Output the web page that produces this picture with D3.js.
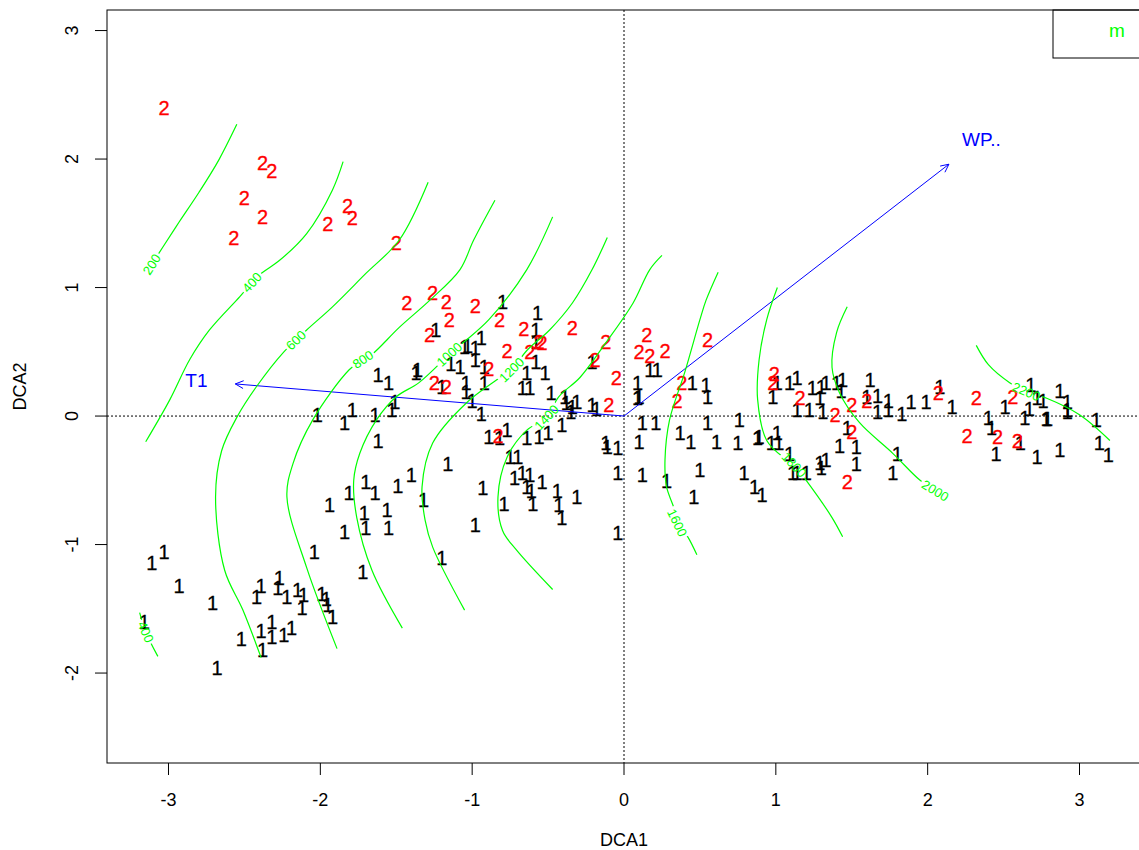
<!DOCTYPE html>
<html>
<head>
<meta charset="utf-8">
<script src="https://cdn.jsdelivr.net/npm/d3@7"></script>
<style>
  body { margin: 0; background: #fff; }
  svg { display: block; font-family: "Liberation Sans", Arial, sans-serif; }
</style>
</head>
<body>
<div id="chart"></div>
<script>
// axis ticks
var xTicks = [-3, -2, -1, 0, 1, 2, 3];
var yTicks = [-2, -1, 0, 1, 2, 3];

// site scores, group 1 (DCA1, DCA2)
var sites1 = [
  [-2.02,0.01],[-1.84,-0.05],[-1.79,0.05],[-1.64,0.01],[-1.53,0.05],[-1.51,0.11],[-1.62,0.32],[-1.55,0.26],[-1.37,0.34],[-1.62,-0.19],
  [-1.70,-0.51],[-1.64,-0.60],[-1.81,-0.60],[-1.94,-0.69],[-1.71,-0.75],[-1.56,-0.73],[-1.49,-0.54],[-1.40,-0.46],[-1.84,-0.90],[-1.70,-0.87],
  [-1.55,-0.87],[-2.04,-1.06],[-3.03,-1.06],[-3.11,-1.14],
  [-2.93,-1.32],[-2.71,-1.45],[-3.16,-1.60],[-2.68,-1.96],[-2.52,-1.73],[-2.42,-1.41],[-2.39,-1.32],[-2.27,-1.26],[-2.28,-1.34],[-2.22,-1.41],
  [-2.15,-1.35],[-2.11,-1.39],[-2.12,-1.49],[-1.99,-1.38],[-1.96,-1.42],[-1.95,-1.47],[-1.92,-1.56],[-2.39,-1.67],[-2.32,-1.60],[-2.32,-1.72],
  [-2.24,-1.70],[-2.19,-1.65],[-2.38,-1.82],[-1.72,-1.21],
  [-0.80,0.89],[-0.57,0.80],[-0.58,0.67],[-0.58,0.58],[-1.24,0.67],[-1.05,0.54],[-1.03,0.55],[-0.98,0.53],[-0.94,0.61],[-1.14,0.41],
  [-1.08,0.38],[-0.98,0.44],[-0.92,0.38],[-0.92,0.26],[-1.36,0.36],[-1.04,0.26],[-1.04,0.19],[-1.20,0.23],[-1.00,0.12],[-0.94,0.02],
  [-0.64,0.34],[-0.52,0.34],[-0.58,0.42],[-0.67,0.22],[-0.62,0.22],[-0.48,0.18],[-0.39,0.15],[-0.38,0.10],[-0.34,0.07],[-0.31,0.11],
  [-0.35,0.03],[-0.21,0.09],[-0.18,0.06],[-0.21,0.42],[-0.89,-0.16],[-0.82,-0.17],[-0.77,-0.11],[-0.64,-0.17],[-0.56,-0.16],[-0.50,-0.13],
  [-0.41,-0.07],[-0.75,-0.32],[-0.70,-0.32],[-1.16,-0.37],[-0.72,-0.48],[-0.67,-0.44],[-0.62,-0.46],[-0.64,-0.55],[-0.61,-0.58],[-0.54,-0.51],
  [-0.44,-0.58],[-0.31,-0.63],[-0.93,-0.56],[-1.32,-0.65],[-0.79,-0.68],[-0.60,-0.68],[-0.43,-0.69],[-0.41,-0.79],[-0.98,-0.85],[-0.12,-0.21],
  [-0.11,-0.24],[-0.04,-0.25],[-0.04,-0.44],[-0.04,-0.91],[-1.20,-1.10],
  [0.17,0.36],[0.22,0.36],[0.09,0.26],[0.10,0.15],[0.09,0.14],[0.12,-0.05],[0.21,-0.05],[0.10,-0.20],[0.12,-0.46],[0.28,-0.50],
  [0.37,-0.13],[0.44,-0.20],[0.45,0.26],[0.54,0.24],[0.55,0.15],[0.55,-0.05],[0.50,-0.42],[0.46,-0.63],[0.61,-0.20],[0.75,-0.21],
  [0.76,-0.03],[0.79,-0.44],[0.86,-0.55],[0.91,-0.61],[0.88,-0.17],[0.89,-0.16],[0.97,-0.21],[1.02,-0.21],[1.01,-0.13],[1.09,-0.29],
  [1.11,-0.44],[1.14,-0.44],[1.20,-0.44],[1.29,-0.36],[1.30,-0.40],[1.33,-0.34],[1.42,-0.23],[1.53,-0.24],[1.53,-0.37],[1.80,-0.29],
  [1.77,-0.44],[0.98,0.15],[1.01,0.26],[1.09,0.26],[1.14,0.30],[1.14,0.05],[1.22,0.05],[1.24,0.22],[1.29,0.14],[1.30,0.23],
  [1.31,0.03],[1.33,0.26],[1.40,0.26],[1.44,0.28],[1.43,0.20],[1.62,0.28],[1.60,0.15],[1.67,0.16],[1.67,0.03],[1.74,0.12],
  [1.74,0.05],[1.83,0.02],[1.89,0.11],[1.99,0.11],[1.47,-0.09],
  [2.08,0.23],[2.16,0.07],[2.40,-0.01],[2.42,-0.09],[2.45,-0.29],[2.51,0.07],[2.64,-0.01],[2.67,0.06],[2.68,0.24],[2.72,0.14],
  [2.76,0.12],[2.78,-0.02],[2.79,-0.02],[2.72,-0.32],[2.61,-0.21],[2.87,0.20],[2.92,0.11],[2.92,0.05],[2.92,0.03],[2.87,-0.26],
  [3.11,-0.03],[3.13,-0.21],[3.19,-0.30]
];

// site scores, group 2
var sites2 = [
  [-3.03,2.40],[-2.38,1.97],[-2.32,1.91],[-2.50,1.70],[-2.38,1.55],[-2.57,1.39],[-1.82,1.64],[-1.79,1.54],[-1.95,1.50],[-1.50,1.35],
  [-1.43,0.88],[-1.26,0.96],[-1.17,0.89],[-0.98,0.86],[-1.15,0.75],[-1.28,0.63],[-0.82,0.75],[-0.66,0.68],[-0.56,0.58],[-0.54,0.57],
  [-0.77,0.51],[-0.62,0.50],[-0.34,0.69],[-0.12,0.58],[-0.19,0.44],[-0.89,0.37],[-1.25,0.26],[-1.17,0.23],[-0.05,0.30],[-0.10,0.09],
  [-0.83,-0.15],[0.15,0.63],[0.10,0.50],[0.17,0.47],[0.27,0.51],[0.55,0.59],[0.38,0.26],[0.35,0.12],[0.99,0.33],[0.98,0.26],
  [1.16,0.14],[1.39,0.01],[1.50,0.09],[1.60,0.12],[1.50,-0.12],[1.47,-0.51],[2.07,0.18],[2.32,0.14],[2.56,0.15],[2.26,-0.15],
  [2.46,-0.16],[2.59,-0.19]
];

// fitted vectors
var vectors = [
  { name: 'T1', x: -2.56, y: 0.25 },
  { name: 'WP..', x: 2.14, y: 1.96 }
];

// surface contours of m (lab = index of the labelled vertex)
var contours = [
  { level: 200, lab: 5, pts: [[-2.55,2.27],[-2.67,1.99],[-2.80,1.74],[-2.93,1.51],[-3.04,1.31],[-3.11,1.18]] },
  { level: 400, lab: 5, pts: [[-1.85,1.98],[-1.92,1.76],[-2.09,1.42],[-2.27,1.21],[-2.39,1.11],[-2.45,1.04],[-2.53,0.93],[-2.73,0.67],[-2.86,0.44],[-2.99,0.13],[-3.15,-0.20]] },
  { level: 400, lab: 1, pts: [[-3.19,-1.53],[-3.15,-1.68],[-3.07,-1.87]] },
  { level: 600, lab: 5, pts: [[-1.29,1.82],[-1.48,1.37],[-1.70,1.11],[-1.92,0.85],[-2.09,0.67],[-2.16,0.59],[-2.24,0.50],[-2.42,0.23],[-2.55,-0.01],[-2.65,-0.27],[-2.69,-0.63],[-2.63,-1.20],[-2.51,-1.51],[-2.39,-1.88]] },
  { level: 800, lab: 6, pts: [[-0.85,1.68],[-0.99,1.37],[-1.08,1.14],[-1.28,0.90],[-1.48,0.69],[-1.66,0.48],[-1.72,0.44],[-1.81,0.36],[-2.05,-0.03],[-2.18,-0.37],[-2.22,-0.63],[-2.09,-1.18],[-1.89,-1.81]] },
  { level: 1000, lab: 4, pts: [[-0.47,1.55],[-0.64,1.14],[-0.89,0.75],[-1.06,0.57],[-1.15,0.48],[-1.35,0.26],[-1.50,0.15],[-1.63,-0.03],[-1.74,-0.29],[-1.78,-0.50],[-1.76,-0.79],[-1.66,-1.20],[-1.46,-1.65]] },
  { level: 1200, lab: 5, pts: [[-0.11,1.39],[-0.21,1.14],[-0.34,0.88],[-0.49,0.67],[-0.64,0.51],[-0.74,0.36],[-0.84,0.28],[-1.04,0.10],[-1.26,-0.21],[-1.33,-0.55],[-1.31,-0.81],[-1.26,-1.02],[-1.05,-1.51]] },
  { level: 1400, lab: 6, pts: [[0.25,1.25],[0.17,1.14],[0.06,0.88],[-0.12,0.57],[-0.29,0.30],[-0.43,0.15],[-0.51,-0.01],[-0.64,-0.11],[-0.77,-0.32],[-0.83,-0.63],[-0.80,-0.89],[-0.71,-1.04],[-0.47,-1.35]] },
  { level: 1600, lab: 8, pts: [[0.62,1.12],[0.54,0.90],[0.50,0.75],[0.40,0.34],[0.30,-0.03],[0.27,-0.34],[0.28,-0.55],[0.33,-0.72],[0.35,-0.83],[0.42,-0.94],[0.48,-1.08]] },
  { level: 1800, lab: 6, pts: [[1.01,1.00],[0.94,0.75],[0.89,0.44],[0.88,0.13],[0.94,-0.19],[1.07,-0.34],[1.12,-0.38],[1.20,-0.50],[1.37,-0.79],[1.44,-0.94]] },
  { level: 2000, lab: 7, pts: [[1.47,0.85],[1.40,0.65],[1.37,0.38],[1.42,0.18],[1.55,-0.05],[1.77,-0.29],[1.95,-0.50],[2.05,-0.58],[2.13,-0.63]] },
  { level: 2200, lab: 3, pts: [[2.32,0.55],[2.40,0.40],[2.54,0.26],[2.65,0.19],[2.78,0.14],[3.00,0.01],[3.20,-0.19]] }
];

var legendLabels = ['m'];

(function(window, d3) {
  'use strict';

  var width = 1139, height = 850;
  var plot = { left: 107, top: 10, right: 1141, bottom: 763 };

  var x = d3.scaleLinear().domain([-3.405, 3.405]).range([plot.left, plot.right]);
  var y = d3.scaleLinear().domain([-2.70, 3.16]).range([plot.bottom, plot.top]);

  var svg = d3.select('#chart').append('svg')
    .attr('width', width)
    .attr('height', height);

  var defs = svg.append('defs');
  defs.append('clipPath').attr('id', 'plotclip')
    .append('rect')
    .attr('x', plot.left).attr('y', plot.top)
    .attr('width', plot.right - plot.left)
    .attr('height', plot.bottom - plot.top);

  var inner = svg.append('g').attr('clip-path', 'url(#plotclip)');

  // zero lines
  inner.append('line')
    .attr('x1', x(0)).attr('x2', x(0))
    .attr('y1', plot.top).attr('y2', plot.bottom)
    .attr('stroke', '#000').attr('stroke-dasharray', '2,2');
  inner.append('line')
    .attr('x1', plot.left).attr('x2', plot.right)
    .attr('y1', y(0)).attr('y2', y(0))
    .attr('stroke', '#000').attr('stroke-dasharray', '2,2');

  // site labels
  var drawSites = function(data, label, colour) {
    inner.append('g').selectAll('text')
      .data(data)
      .enter().append('text')
      .attr('x', function(d) { return x(d[0]); })
      .attr('y', function(d) { return y(d[1]); })
      .attr('dy', '0.36em')
      .attr('text-anchor', 'middle')
      .attr('font-size', 20)
      .attr('fill', colour)
      .attr('stroke', colour)
      .attr('stroke-width', 0.3)
      .text(label);
  };
  drawSites(sites1, '1', '#000');
  drawSites(sites2, '2', '#ff0000');

  // vectors
  var vec = inner.append('g');
  vectors.forEach(function(v) {
    var x0 = x(0), y0 = y(0), x1 = x(v.x), y1 = y(v.y);
    var a = Math.atan2(y1 - y0, x1 - x0);
    var len = 9, spread = Math.PI / 7;
    vec.append('line')
      .attr('x1', x0).attr('y1', y0).attr('x2', x1).attr('y2', y1)
      .attr('stroke', '#0000ff').attr('stroke-width', 1);
    vec.append('path')
      .attr('d', 'M' + (x1 - len * Math.cos(a - spread)) + ',' + (y1 - len * Math.sin(a - spread)) +
        'L' + x1 + ',' + y1 +
        'L' + (x1 - len * Math.cos(a + spread)) + ',' + (y1 - len * Math.sin(a + spread)))
      .attr('fill', 'none').attr('stroke', '#0000ff').attr('stroke-width', 1);
    vec.append('text')
      .attr('x', x(v.x * 1.1))
      .attr('y', y(v.y * 1.1))
      .attr('dy', '0.35em')
      .attr('text-anchor', 'middle')
      .attr('font-size', 19)
      .attr('fill', '#0000ff')
      .text(v.name);
  });

  // contours
  var line = d3.line()
    .x(function(d) { return x(d[0]); })
    .y(function(d) { return y(d[1]); })
    .curve(d3.curveCatmullRom);

  var mask = defs.append('mask').attr('id', 'labgap')
    .attr('maskUnits', 'userSpaceOnUse')
    .attr('x', 0).attr('y', 0).attr('width', width).attr('height', height);
  mask.append('rect').attr('width', width).attr('height', height).attr('fill', '#fff');

  var cont = inner.append('g');
  var lines = cont.append('g').attr('mask', 'url(#labgap)');
  var labels = cont.append('g');

  contours.forEach(function(c) {
    lines.append('path')
      .attr('d', line(c.pts))
      .attr('fill', 'none')
      .attr('stroke', '#00ff00')
      .attr('stroke-width', 1.2);

    var n = c.pts.length;
    var p = c.pts[c.lab];
    var pa = c.pts[Math.max(0, c.lab - 1)];
    var pb = c.pts[Math.min(n - 1, c.lab + 1)];
    var ang = Math.atan2(y(pb[1]) - y(pa[1]), x(pb[0]) - x(pa[0])) * 180 / Math.PI;
    if (ang > 90) ang -= 180;
    if (ang < -90) ang += 180;
    var lx = x(p[0]), ly = y(p[1]);

    var t = labels.append('text')
      .attr('transform', 'translate(' + lx + ',' + ly + ') rotate(' + ang + ')')
      .attr('dy', '0.35em')
      .attr('text-anchor', 'middle')
      .attr('font-size', 13)
      .attr('fill', '#00ff00')
      .text(c.level);
    var w = t.node().getComputedTextLength() + 4;
    mask.append('rect')
      .attr('x', -w / 2).attr('y', -6)
      .attr('width', w).attr('height', 12)
      .attr('fill', '#000')
      .attr('transform', 'translate(' + lx + ',' + ly + ') rotate(' + ang + ')');
  });

  // legend
  var leg = svg.append('g');
  leg.append('rect')
    .attr('x', 1053).attr('y', plot.top)
    .attr('width', 100).attr('height', 48)
    .attr('fill', '#fff').attr('stroke', '#000');
  leg.selectAll('text.leg')
    .data(legendLabels)
    .enter().append('text')
    .attr('class', 'leg')
    .attr('x', 1117)
    .attr('y', function(d, i) { return 30 + i * 20; })
    .attr('dy', '0.35em')
    .attr('text-anchor', 'middle')
    .attr('font-size', 19)
    .attr('fill', '#00ff00')
    .text(String);

  // frame
  svg.append('rect')
    .attr('x', plot.left).attr('y', plot.top)
    .attr('width', plot.right - plot.left)
    .attr('height', plot.bottom - plot.top)
    .attr('fill', 'none').attr('stroke', '#000');

  // axes
  var xa = svg.append('g');
  xa.selectAll('line')
    .data(xTicks)
    .enter().append('line')
    .attr('x1', x).attr('x2', x)
    .attr('y1', plot.bottom).attr('y2', plot.bottom + 12)
    .attr('stroke', '#000');
  xa.selectAll('text')
    .data(xTicks)
    .enter().append('text')
    .attr('x', x)
    .attr('y', 800)
    .attr('dy', '0.35em')
    .attr('text-anchor', 'middle')
    .attr('font-size', 18)
    .text(String);

  var ya = svg.append('g');
  ya.selectAll('line')
    .data(yTicks)
    .enter().append('line')
    .attr('x1', plot.left - 12).attr('x2', plot.left)
    .attr('y1', y).attr('y2', y)
    .attr('stroke', '#000');
  ya.selectAll('text')
    .data(yTicks)
    .enter().append('text')
    .attr('transform', function(d) { return 'translate(72,' + y(d) + ') rotate(-90)'; })
    .attr('dy', '0.35em')
    .attr('text-anchor', 'middle')
    .attr('font-size', 18)
    .text(String);

  svg.append('text')
    .attr('x', (plot.left + plot.right) / 2)
    .attr('y', 840)
    .attr('dy', '0.35em')
    .attr('text-anchor', 'middle')
    .attr('font-size', 18)
    .text('DCA1');

  svg.append('text')
    .attr('transform', 'translate(20,' + (plot.top + plot.bottom) / 2 + ') rotate(-90)')
    .attr('dy', '0.35em')
    .attr('text-anchor', 'middle')
    .attr('font-size', 18)
    .text('DCA2');

})(window, window.d3);
</script>
</body>
</html>
